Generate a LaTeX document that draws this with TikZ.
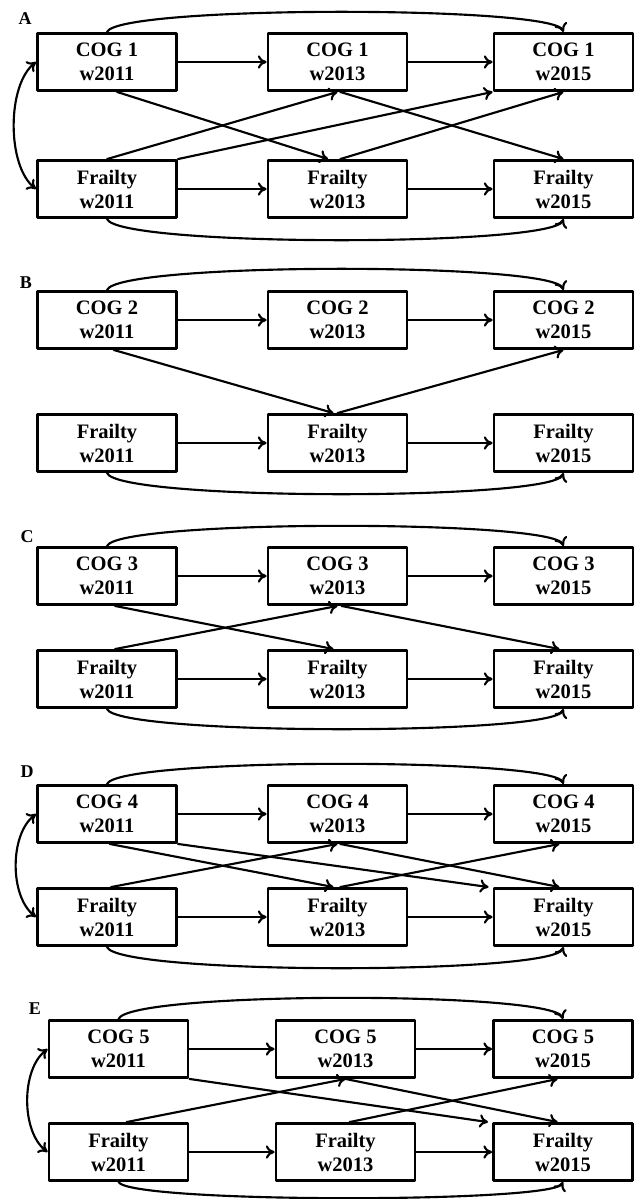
\documentclass[tikz,border=0pt]{standalone}
\usepackage{fontspec}
\setmainfont{Liberation Serif}
\usepackage{tikz}
\usetikzlibrary{arrows.meta}

\newcommand{\boxfont}{\fontsize{15.4}{18}\selectfont\bfseries}
\newcommand{\lblfont}{\fontsize{13.5}{15}\selectfont\bfseries}

\begin{document}
\begin{tikzpicture}[x=0.75pt, y=-0.75pt, line cap=round, line join=round]
  % ---- Styles ----
  \tikzset{
    box/.style={draw, line width=1.9pt, minimum width=104.5pt, minimum height=43pt,
                inner sep=0pt, align=center, font=\boxfont},
    lbl/.style={font=\lblfont},
    link/.style={-{To[length=6.5pt,width=10pt]}, line width=1.6pt},
    loop/.style={-{To[length=6.5pt,width=10pt]}, line width=1.6pt},
    corr/.style={{To[length=6.5pt,width=10pt]}-{To[length=6.5pt,width=10pt]}, line width=1.6pt},
  }

  % page frame (pixel units of the figure)
  \useasboundingbox (0,0) rectangle (637,1199);

  % ---- Panel A ----
  \node[lbl] (labA) at (25,19) {A};
  \foreach \i/\x/\yr in {1/107/2011,2/337.5/2013,3/563.5/2015}{
    \node[box] (A-c\i) at (\x,62) {COG 1\\w\yr};
    \node[box] (A-f\i) at (\x,189) {Frailty\\w\yr};
  }
  \foreach \r in {c,f}{
    \draw[link] (A-\r1.east) -- (A-\r2.west);
    \draw[link] (A-\r2.east) -- (A-\r3.west);
  }
  % cross-lagged paths
  \draw[link] ([xshift=7.5pt]A-c1.south) -- ([xshift=-7pt]A-f2.north);
  \draw[link] (A-f1.north) -- (A-c2.south);
  \draw[link] (A-f1.north east) -- (A-c3.south west);
  \draw[link] ([xshift=2pt]A-c2.south) -- (A-f3.north);
  \draw[link] ([xshift=2pt]A-f2.north) -- (A-c3.south);
  % long lags and correlation
  \draw[loop] (A-c1.north) .. controls ([xshift=7.5pt,yshift=20pt]A-c1.north)
    and ([xshift=-7.5pt,yshift=20pt]A-c3.north) .. (A-c3.north);
  \draw[loop] (A-f1.south) .. controls ([xshift=7.5pt,yshift=-21pt]A-f1.south)
    and ([xshift=-7.5pt,yshift=-21pt]A-f3.south) .. (A-f3.south);
  \draw[corr] (A-c1.west) .. controls ([xshift=-22pt,yshift=-17pt]A-c1.west)
    and ([xshift=-22pt,yshift=17pt]A-f1.west) .. (A-f1.west);

  % ---- Panel B ----
  \node[lbl] (labB) at (26,283) {B};
  \foreach \i/\x/\yr in {1/107/2011,2/337.5/2013,3/563.5/2015}{
    \node[box] (B-c\i) at (\x,320) {COG 2\\w\yr};
    \node[box] (B-f\i) at (\x,443) {Frailty\\w\yr};
  }
  \foreach \r in {c,f}{
    \draw[link] (B-\r1.east) -- (B-\r2.west);
    \draw[link] (B-\r2.east) -- (B-\r3.west);
  }
  \draw[link] ([xshift=5pt]B-c1.south) -- ([xshift=-3pt]B-f2.north);
  \draw[link] (B-f2.north) -- (B-c3.south);
  \draw[loop] (B-c1.north) .. controls ([xshift=7.5pt,yshift=21pt]B-c1.north)
    and ([xshift=-7.5pt,yshift=21pt]B-c3.north) .. (B-c3.north);
  \draw[loop] (B-f1.south) .. controls ([xshift=7.5pt,yshift=-21pt]B-f1.south)
    and ([xshift=-7.5pt,yshift=-21pt]B-f3.south) .. (B-f3.south);

  % ---- Panel C ----
  \node[lbl] (labC) at (27,537) {C};
  \foreach \i/\x/\yr in {1/107/2011,2/337.5/2013,3/563.5/2015}{
    \node[box] (C-c\i) at (\x,576) {COG 3\\w\yr};
    \node[box] (C-f\i) at (\x,679) {Frailty\\w\yr};
  }
  \foreach \r in {c,f}{
    \draw[link] (C-\r1.east) -- (C-\r2.west);
    \draw[link] (C-\r2.east) -- (C-\r3.west);
  }
  \draw[link] ([xshift=6pt]C-c1.south) -- ([xshift=-3pt]C-f2.north);
  \draw[link] ([xshift=6pt]C-f1.north) -- (C-c2.south);
  \draw[link] ([xshift=3pt]C-c2.south) -- ([xshift=-3pt]C-f3.north);
  \draw[loop] (C-c1.north) .. controls ([xshift=7.5pt,yshift=20pt]C-c1.north)
    and ([xshift=-7.5pt,yshift=20pt]C-c3.north) .. (C-c3.north);
  \draw[loop] (C-f1.south) .. controls ([xshift=7.5pt,yshift=-20pt]C-f1.south)
    and ([xshift=-7.5pt,yshift=-20pt]C-f3.south) .. (C-f3.south);

  % ---- Panel D ----
  \node[lbl] (labD) at (27,772) {D};
  \foreach \i/\x/\yr in {1/107/2011,2/337.5/2013,3/563.5/2015}{
    \node[box] (D-c\i) at (\x,814) {COG 4\\w\yr};
    \node[box] (D-f\i) at (\x,917) {Frailty\\w\yr};
  }
  \foreach \r in {c,f}{
    \draw[link] (D-\r1.east) -- (D-\r2.west);
    \draw[link] (D-\r2.east) -- (D-\r3.west);
  }
  \draw[link] ([xshift=2pt]D-c1.south) -- ([xshift=-3pt]D-f2.north);
  \draw[link] (D-c1.south east) -- ([xshift=-3pt]D-f3.north west);
  \draw[link] ([xshift=3pt]D-f1.north) -- (D-c2.south);
  \draw[link] ([xshift=2pt]D-c2.south) -- ([xshift=-3pt]D-f3.north);
  \draw[link] ([xshift=2pt]D-f2.north) -- ([xshift=-3pt]D-c3.south);
  \draw[loop] (D-c1.north) .. controls ([xshift=7.5pt,yshift=20pt]D-c1.north)
    and ([xshift=-7.5pt,yshift=20pt]D-c3.north) .. (D-c3.north);
  \draw[loop] (D-f1.south) .. controls ([xshift=7.5pt,yshift=-21pt]D-f1.south)
    and ([xshift=-7.5pt,yshift=-21pt]D-f3.south) .. (D-f3.south);
  \draw[corr] (D-c1.west) .. controls ([xshift=-20pt,yshift=-15pt]D-c1.west)
    and ([xshift=-20pt,yshift=15pt]D-f1.west) .. (D-f1.west);

  % ---- Panel E ----
  \node[lbl] (labE) at (35,1009) {E};
  \foreach \i/\x/\yr in {1/118.5/2011,2/345.5/2013,3/563/2015}{
    \node[box] (E-c\i) at (\x,1049) {COG 5\\w\yr};
    \node[box] (E-f\i) at (\x,1152) {Frailty\\w\yr};
  }
  \foreach \r in {c,f}{
    \draw[link] (E-\r1.east) -- (E-\r2.west);
    \draw[link] (E-\r2.east) -- (E-\r3.west);
  }
  \draw[link] (E-c1.south east) -- ([xshift=-3pt]E-f3.north west);
  \draw[link] (E-c2.south) -- ([xshift=-4pt]E-f3.north);
  \draw[link] ([xshift=6pt]E-f1.north) -- (E-c2.south);
  \draw[link] ([xshift=3pt]E-f2.north) -- ([xshift=-4pt]E-c3.south);
  \draw[loop] (E-c1.north) .. controls ([xshift=7.5pt,yshift=21pt]E-c1.north)
    and ([xshift=-7.5pt,yshift=21pt]E-c3.north) .. (E-c3.north);
  \draw[loop] (E-f1.south) .. controls ([xshift=7.5pt,yshift=-16pt]E-f1.south)
    and ([xshift=-7.5pt,yshift=-16pt]E-f3.south) .. (E-f3.south);
  \draw[corr] (E-c1.west) .. controls ([xshift=-20pt,yshift=-15pt]E-c1.west)
    and ([xshift=-20pt,yshift=15pt]E-f1.west) .. (E-f1.west);

\end{tikzpicture}
\end{document}
